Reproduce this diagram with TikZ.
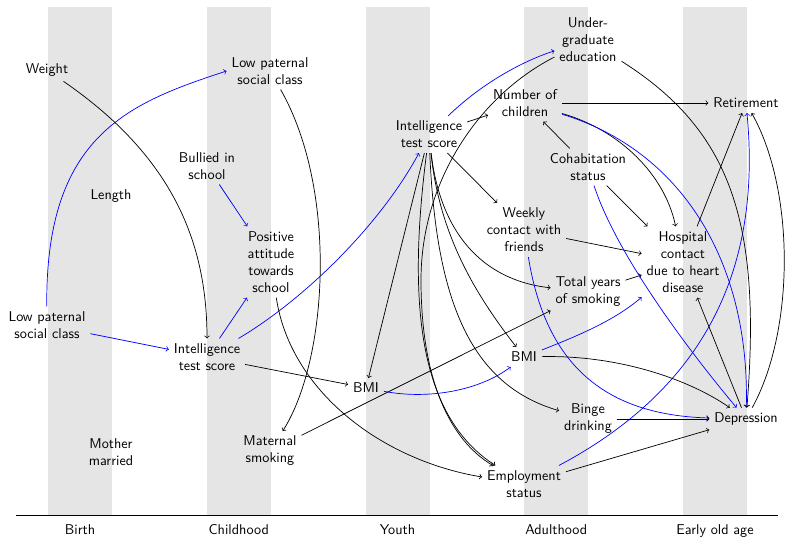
\documentclass[tikz,border=0pt]{standalone}
\usepackage{tikz}
\begin{document}
\begin{tikzpicture}[x=0.704pt,y=-0.704pt,font=\sffamily,
  v/.style={align=center,inner sep=3.33pt},
  bk/.style={->,line width=0.5pt},
  bl/.style={->,blue,line width=0.5pt},
  stripe/.style={fill=gray!20,draw=none},
  period/.style={anchor=base}]
\useasboundingbox (0,0) rectangle (788,538);
% stripes
\foreach \c in {80,238.75,397.5,556.25,715}{
  \fill[gray!20] (\c-32,7) rectangle (\c+32,515);
}
\draw[line width=0.5pt] (16,515) -- (778,515);
\node[period] (pbirth) at (80,535) {Birth};
\node[period] (pchild) at (238.75,535) {Childhood};
\node[period] (pyouth) at (397.5,535) {Youth};
\node[period] (padult) at (556.25,535) {Adulthood};
\node[period] (pold) at (715,535) {Early old age};
% nodes
\node[v] (weight) at (47,70) {Weight};
\node[v] (length) at (111,196) {Length};
\node[v] (lpscb) at (47,325) {Low paternal\\social class};
\node[v] (mother) at (111,452) {Mother\\married};
\node[v] (lpscc) at (270,71) {Low paternal\\social class};
\node[v] (bullied) at (207,166) {Bullied in\\school};
\node[v] (posatt) at (271,262) {Positive\\attitude\\towards\\school};
\node[v] (itsc) at (207,357) {Intelligence\\test score};
\node[v] (matsmk) at (270,451) {Maternal\\smoking};
\node[v] (itsy) at (429,134.5) {Intelligence\\test score};
\node[v] (bmiy) at (366,388) {BMI};
\node[v] (ug) at (588,40) {Under-\\graduate\\education};
\node[v] (noc) at (525,103) {Number of\\children};
\node[v] (cohab) at (588,167) {Cohabitation\\status};
\node[v] (weekly) at (524,230) {Weekly\\contact with\\friends};
\node[v] (totsmk) at (588,292) {Total years\\of smoking};
\node[v] (bmia) at (524,357) {BMI};
\node[v] (binge) at (588,419) {Binge\\drinking};
\node[v] (emp) at (524,484) {Employment\\status};
\node[v] (ret) at (746,103) {Retirement};
\node[v] (hosp) at (683,262) {Hospital\\contact\\due to heart\\disease};
\node[v] (dep) at (746,419) {Depression};
% edges: birth / childhood
\draw[bl] (lpscb) .. controls (45,135) and (129,103) .. (lpscc.west);
\draw[bk] (weight) .. controls (169,154) and (207,238) .. (itsc);
\draw[bl] (lpscb) -- (itsc);
\draw[bl] (bullied) -- (posatt);
\draw[bl] (itsc) -- (posatt);
\draw[bl] (itsc) .. controls (302,301) and (379,227) .. (itsy);
\draw[bk] (lpscc) .. controls (338,190) and (328,360) .. (matsmk);
\draw[bk] (posatt) .. controls (290,390) and (380,460) .. (emp);
\draw[bk] (itsc) -- (bmiy);
\draw[bk] (matsmk) -- (totsmk);
% youth
\draw[bk] (itsy) -- (noc);
\draw[bk] (itsy) -- (weekly);
\draw[bk] (itsy) -- (bmiy);
\draw[bk] (itsy) .. controls (440,230) and (480,280) .. (totsmk);
\draw[bk] (itsy) .. controls (440,240) and (480,300) .. (bmia);
\draw[bk] (itsy) .. controls (436,300) and (470,385) .. (binge);
\draw[bk] (itsy) .. controls (405,320) and (425,420) .. (emp);
\draw[bk] (ug) .. controls (480,95) and (421,180) .. (421,280) .. controls (421,380) and (450,440) .. (emp);
\draw[bl] (itsy) .. controls (480,85) and (520,62) .. (ug);
\draw[bl] (bmiy) .. controls (430,400) and (480,390) .. (bmia);
% adulthood
\draw[bl] (bmia) .. controls (580,335) and (615,320) .. (hosp);
\draw[bk] (cohab) -- (hosp);
\draw[bk] (weekly) -- (hosp);
\draw[bk] (totsmk) -- (hosp);
\draw[bk] (noc) .. controls (620,130) and (665,175) .. (hosp);
\draw[bl] (noc) .. controls (680,150) and (750,260) .. (dep);
\draw[bl] (cohab) .. controls (615,250) and (680,340) .. (dep);
\draw[bl] (weekly) .. controls (545,360) and (600,415) .. (dep);
\draw[bl] (emp) .. controls (720,380) and (760,250) .. (ret);
\draw[bk] (dep) .. controls (795,330) and (795,190) .. (ret);
\draw[bk] (ug) .. controls (730,130) and (762,220) .. (dep);
\draw[bk] (hosp) -- (ret);
\draw[bk] (dep) -- (hosp);
\draw[bk] (bmia) .. controls (620,355) and (690,380) .. (dep);
\draw[bk] (binge) -- (dep);
\draw[bk] (emp) -- (dep);
\draw[bk] (cohab) -- (noc);
\draw[bk] (noc) -- (ret);
\end{tikzpicture}
\end{document}
